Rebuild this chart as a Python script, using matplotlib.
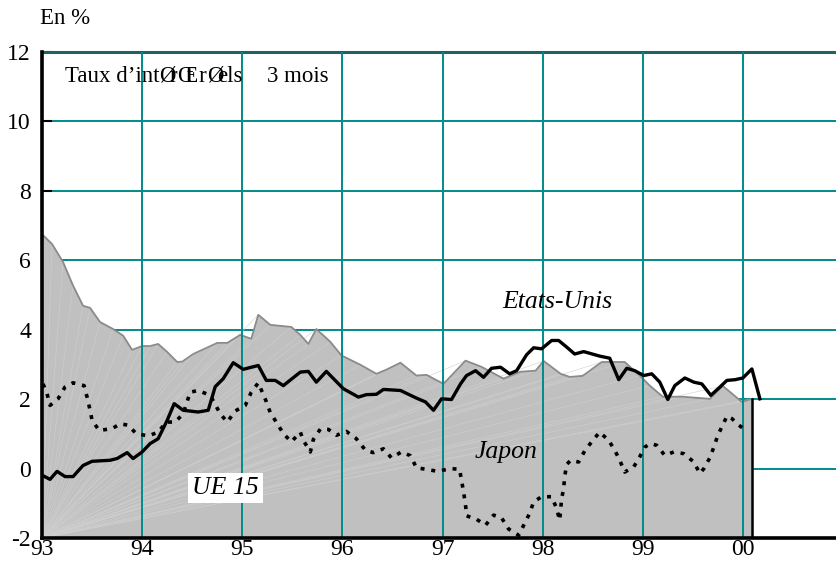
import numpy as np
import matplotlib
matplotlib.use("Agg")
import matplotlib.pyplot as plt
from matplotlib.transforms import offset_copy

plt.rcParams['font.family'] = ['Liberation Serif', 'DejaVu Serif']

# --- data (decimal year, rate in %) ---
ue_years = [93.00, 93.10, 93.21, 93.31, 93.41, 93.48, 93.58, 93.71, 93.81, 93.90,
            94.00, 94.08, 94.16, 94.25, 94.35, 94.40, 94.51, 94.75, 94.85, 94.98,
            95.09, 95.16, 95.28, 95.49, 95.58, 95.66, 95.74, 95.88, 95.99, 96.18,
            96.34, 96.44, 96.58, 96.74, 96.84, 97.01, 97.23, 97.39, 97.61, 97.78,
            97.93, 98.01, 98.18, 98.27, 98.40, 98.59, 98.82, 98.97, 99.07, 99.20,
            99.40, 99.67, 99.80, 99.99, 100.09]
ue_rates = [6.75, 6.47, 5.95, 5.27, 4.69, 4.63, 4.22, 4.02, 3.83, 3.42,
            3.53, 3.53, 3.59, 3.36, 3.07, 3.08, 3.30, 3.62, 3.62, 3.85,
            3.74, 4.43, 4.14, 4.08, 3.85, 3.59, 4.02, 3.65, 3.26, 2.99,
            2.73, 2.85, 3.05, 2.68, 2.70, 2.44, 3.11, 2.93, 2.59, 2.79,
            2.82, 3.10, 2.73, 2.64, 2.67, 3.07, 3.07, 2.68, 2.39, 2.07,
            2.07, 2.01, 2.38, 1.92, 2.01]

us_years = [93.00, 93.08, 93.15, 93.23, 93.31, 93.41, 93.50, 93.68, 93.75, 93.85,
            93.91, 94.00, 94.08, 94.16, 94.25, 94.32, 94.41, 94.56, 94.66, 94.73,
            94.81, 94.91, 95.01, 95.16, 95.24, 95.33, 95.41, 95.58, 95.66, 95.74,
            95.84, 96.01, 96.16, 96.24, 96.34, 96.41, 96.58, 96.74, 96.83, 96.91,
            96.99, 97.09, 97.18, 97.24, 97.33, 97.41, 97.49, 97.58, 97.67, 97.74,
            97.84, 97.91, 97.99, 98.09, 98.16, 98.24, 98.32, 98.41, 98.57, 98.67,
            98.76, 98.84, 98.92, 99.01, 99.09, 99.17, 99.25, 99.32, 99.42, 99.51,
            99.59, 99.68, 99.76, 99.84, 99.92, 100.00, 100.09, 100.17]
us_rates = [-0.19, -0.31, -0.08, -0.23, -0.23, 0.09, 0.21, 0.24, 0.29, 0.46,
            0.29, 0.48, 0.72, 0.86, 1.39, 1.87, 1.68, 1.63, 1.68, 2.36,
            2.59, 3.05, 2.86, 2.97, 2.54, 2.54, 2.39, 2.78, 2.80, 2.49,
            2.80, 2.30, 2.06, 2.13, 2.14, 2.28, 2.25, 2.03, 1.92, 1.68,
            2.01, 1.99, 2.44, 2.68, 2.82, 2.63, 2.89, 2.92, 2.73, 2.82,
            3.28, 3.48, 3.45, 3.69, 3.69, 3.50, 3.30, 3.37, 3.24, 3.18,
            2.56, 2.89, 2.82, 2.68, 2.73, 2.49, 1.99, 2.39, 2.61, 2.49,
            2.44, 2.11, 2.32, 2.54, 2.56, 2.61, 2.87, 2.01]

jp_years = [93.01, 93.05, 93.08, 93.16, 93.23, 93.31, 93.42, 93.45, 93.48, 93.50,
            93.57, 93.70, 93.78, 93.86, 93.94, 94.06, 94.16, 94.24, 94.33, 94.41,
            94.48, 94.56, 94.68, 94.78, 94.85, 94.93, 95.03, 95.09, 95.16, 95.24,
            95.28, 95.34, 95.41, 95.49, 95.58, 95.61, 95.68, 95.71, 95.78, 95.86,
            95.94, 96.04, 96.14, 96.23, 96.31, 96.41, 96.49, 96.59, 96.68, 96.74,
            96.84, 96.95, 97.08, 97.17, 97.19, 97.21, 97.23, 97.24, 97.34, 97.43,
            97.51, 97.59, 97.66, 97.76, 97.82, 97.87, 97.91, 97.99, 98.09, 98.14,
            98.17, 98.19, 98.21, 98.22, 98.24, 98.28, 98.36, 98.42, 98.50, 98.57,
            98.66, 98.72, 98.77, 98.82, 98.91, 98.97, 99.02, 99.08, 99.14, 99.22,
            99.31, 99.41, 99.51, 99.57, 99.61, 99.67, 99.71, 99.75, 99.80, 99.84,
            99.89, 99.96, 100.03]
jp_rates = [2.44, 2.16, 1.82, 2.01, 2.35, 2.47, 2.39, 2.06, 1.68, 1.39,
            1.10, 1.15, 1.29, 1.25, 1.01, 0.94, 1.05, 1.34, 1.34, 1.58,
            2.20, 2.25, 2.11, 1.58, 1.34, 1.66, 1.82, 2.20, 2.47, 1.93,
            1.61, 1.34, 1.01, 0.77, 1.05, 0.81, 0.48, 0.84, 1.14, 1.13,
            0.96, 1.07, 0.86, 0.53, 0.46, 0.57, 0.31, 0.48, 0.37, 0.02,
            -0.02, -0.08, 0.00, -0.02, -0.34, -0.67, -1.05, -1.36, -1.46, -1.63,
            -1.34, -1.42, -1.74, -1.92, -1.58, -1.29, -0.96, -0.81, -0.81, -1.15,
            -1.49, -0.86, -0.57, -0.24, 0.12, 0.24, 0.19, 0.51, 0.81, 1.05,
            0.81, 0.53, 0.24, -0.10, 0.05, 0.34, 0.62, 0.72, 0.67, 0.38,
            0.48, 0.43, 0.19, -0.14, 0.00, 0.31, 0.62, 0.96, 1.26, 1.51,
            1.44, 1.25, 1.10]

year_ticks = [93, 94, 95, 96, 97, 98, 99, 100]
year_labels = ['93', '94', '95', '96', '97', '98', '99', '00']
y_ticks = [-2, 0, 2, 4, 6, 8, 10, 12]

# title as it was typeset: accented letters came out as Ø / Œ at the accent's width
title_text = 'Taux d\u2019intérêt réels'
title_swap = {'é': 'Ø', 'ê': 'Œ'}
title_tail = '3 mois'

TEAL = '#008b8b'


def text_width(ax, s, fs):
    r = ax.figure.canvas.get_renderer()
    t = ax.text(0, 0, s, fontsize=fs)
    w = t.get_window_extent(r).width
    t.remove()
    return w


def garbled_title(ax, x, y, fs):
    # split into runs: plain runs drawn as is, accented letters swapped
    runs, start = [], 0
    for i, ch in enumerate(title_text):
        if ch in title_swap:
            if i > start: runs.append((start, title_text[start:i]))
            runs.append((i, title_swap[ch]))
            start = i + 1
    if start < len(title_text): runs.append((start, title_text[start:]))
    for i, s in runs:
        dx = text_width(ax, title_text[:i], fs) if i > 0 else 0
        tr = offset_copy(ax.transData, fig=ax.figure, x=dx, y=0, units='dots')
        ax.text(x, y, s, fontsize=fs, ha='left', va='center', transform=tr, zorder=5)


def main():
    fig = plt.figure(figsize=(8.37, 5.67), dpi=100)
    ax = fig.add_axes([0.0502, 0.0511, 0.9498, 0.8572])
    xmin, xmax, ymin, ymax = 93, 100.94, -2, 12
    ax.set_xlim(xmin, xmax)
    ax.set_ylim(ymin, ymax)

    # horizontal grid sits under the grey area, vertical grid on top of it
    for yv in y_ticks[1:]:
        ax.axhline(yv, color=TEAL, lw=1.4, zorder=1)
    for xv in year_ticks[1:]:
        ax.axvline(xv, color=TEAL, lw=1.4, zorder=3)

    # UE 15 : grey area with the faint fan texture of the original rendering
    ax.fill_between(ue_years, ymin, ue_rates, color='#c0c0c0', lw=0, zorder=2)
    for xv, yv in zip(ue_years, ue_rates):
        ax.plot([xmin, xv], [ymin, yv], color='#cfcfcf', lw=0.4, zorder=2.1)
    ax.plot(ue_years, ue_rates, color='#8a8a8a', lw=1.3, zorder=2.2)
    ax.plot([ue_years[-1], ue_years[-1]], [ymin, ue_rates[-1]], color='black', lw=1.8, zorder=2.3)

    # Etats-Unis / Japon
    ax.plot(us_years, us_rates, color='black', lw=2.4, zorder=4)
    ax.plot(jp_years, jp_rates, color='black', lw=2.6, ls=(0, (1.1, 1.9)), zorder=4)

    ax.text(98.15, 4.80, 'Etats-Unis', fontsize=18.5, style='italic', ha='center', va='center', zorder=5)
    ax.text(97.63, 0.49, 'Japon', fontsize=18.5, style='italic', ha='center', va='center', zorder=5)
    ax.text(94.83, -0.55, 'UE 15', fontsize=18.5, style='italic', ha='center', va='center', zorder=5,
            bbox=dict(facecolor='white', edgecolor='none', pad=3))

    garbled_title(ax, 93.23, 11.3, 16.5)
    ax.text(95.25, 11.3, title_tail, fontsize=16.5, ha='left', va='center', zorder=5)
    fig.text(40 / 837, 1 - 19 / 567, 'En %', fontsize=16.5, ha='left', va='center')

    ## spines and ticks
    ax.spines['right'].set_visible(False)
    ax.spines['top'].set_color('#1f6464')
    ax.spines['top'].set_linewidth(2.2)
    ax.spines['left'].set_linewidth(2.6)
    ax.spines['bottom'].set_linewidth(2.6)
    ax.spines['left'].set_zorder(6)
    ax.spines['bottom'].set_zorder(6)
    ax.set_xticks(year_ticks)
    ax.set_xticklabels(year_labels, fontsize=17)
    ax.set_yticks(y_ticks)
    ax.set_yticklabels([str(v) for v in y_ticks], fontsize=17)
    ax.tick_params(axis='x', length=0, pad=1)
    ax.tick_params(axis='y', direction='in', length=7, width=1.5, pad=8)

    fig.savefig('out.png', dpi=100)
    plt.close(fig)


if __name__ == "__main__": main()
